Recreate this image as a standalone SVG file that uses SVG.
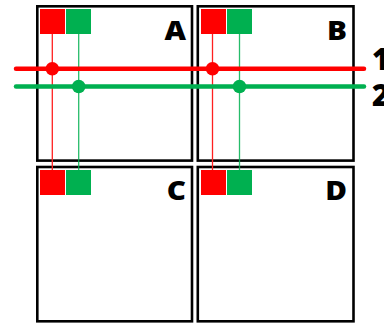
<svg xmlns="http://www.w3.org/2000/svg" width="384" height="324" viewBox="0 0 384 324">
<style>
.box{fill:#fff;stroke:#000;stroke-width:2.6}
.red{fill:#ff0000}
.grn{fill:#00b050}
.lbl{font-family:"Open Sans","Liberation Sans",sans-serif;font-weight:800;font-size:26.5px;fill:#000;text-anchor:end}
.num{font-family:"Open Sans","Liberation Sans",sans-serif;font-weight:800;font-size:30px;fill:#000}
.vr{stroke:#ff2020;stroke-width:1.3;fill:none}
.vg{stroke:#00b050;stroke-width:1.3;fill:none;opacity:0.85}
</style>
<rect width="384" height="324" fill="#fff"/>
<g id="nodeA">
<rect class="box" x="37.3" y="6.3" width="154.7" height="154.3"/>
<rect class="red" x="40" y="9" width="25" height="25"/>
<rect class="grn" x="66" y="9" width="25" height="25"/>
<text class="lbl" transform="translate(186,40) scale(1.12,1)">A</text>
</g>
<g id="nodeB">
<rect class="box" x="197.8" y="6.3" width="155.7" height="154.3"/>
<rect class="red" x="201" y="9" width="25" height="25"/>
<rect class="grn" x="227" y="9" width="25" height="25"/>
<text class="lbl" transform="translate(347,40) scale(1.12,1)">B</text>
</g>
<g id="nodeC">
<rect class="box" x="37.3" y="167" width="154.7" height="154.3"/>
<rect class="red" x="40" y="170" width="25" height="25"/>
<rect class="grn" x="66" y="170" width="25" height="25"/>
<text class="lbl" transform="translate(186,200) scale(1.12,1)">C</text>
</g>
<g id="nodeD">
<rect class="box" x="197.8" y="167" width="155.7" height="154.3"/>
<rect class="red" x="201" y="170" width="25" height="25"/>
<rect class="grn" x="227" y="170" width="25" height="25"/>
<text class="lbl" transform="translate(347,200) scale(1.12,1)">D</text>
</g>
<g id="connectors">
<line class="vr" x1="52.3" y1="34" x2="52.3" y2="170"/>
<line class="vg" x1="78.7" y1="34" x2="78.7" y2="170"/>
<line class="vr" x1="212.5" y1="34" x2="212.5" y2="170"/>
<line class="vg" x1="239.5" y1="34" x2="239.5" y2="170"/>
<line x1="16" y1="68.8" x2="364" y2="68.8" stroke="#ff0000" stroke-width="4.5" stroke-linecap="round"/>
<line x1="16" y1="86.5" x2="364" y2="86.5" stroke="#00b050" stroke-width="4.5" stroke-linecap="round"/>
<circle cx="52.3" cy="68.8" r="6.8" fill="#ff0000"/>
<circle cx="212.5" cy="68.8" r="6.8" fill="#ff0000"/>
<circle cx="78.7" cy="86.5" r="6.8" fill="#00b050"/>
<circle cx="239.5" cy="86.5" r="6.8" fill="#00b050"/>
</g>
<g id="labels">
<text class="num" x="372" y="70">1</text>
<text class="num" x="372" y="106">2</text>
</g>
</svg>
